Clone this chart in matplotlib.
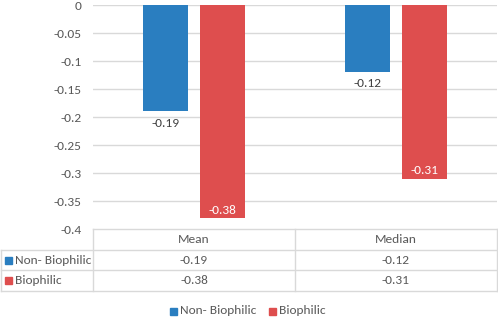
import matplotlib
matplotlib.use("Agg")
import matplotlib.pyplot as plt
from matplotlib.lines import Line2D
from matplotlib.patches import Rectangle

categories = ["Mean", "Median"]
series_names = ["Non- Biophilic", "Biophilic"]
non_biophilic = [-0.19, -0.12]
biophilic = [-0.38, -0.31]
yticks = [0, -0.05, -0.1, -0.15, -0.2, -0.25, -0.3, -0.35, -0.4]
ytick_labels = ["0", "-0.05", "-0.1", "-0.15", "-0.2", "-0.25", "-0.3", "-0.35", "-0.4"]

BLUE = "#2A7EC0"
RED = "#DE4E4E"
GRID = "#D9D9D9"
TXT = "#595959"
plt.rcParams["font.family"] = ["Carlito", "Lato", "DejaVu Sans"]

W, H = 498, 317
fig = plt.figure(figsize=(W / 100, H / 100), dpi=100)

# pick a font size so that the row label has about the reference width
r = fig.canvas.get_renderer()
probe = fig.text(0, 0, series_names[0], fontsize=10)
wpx = probe.get_window_extent(renderer=r).width
probe.remove()
FS = 10 * 77 / wpx

def fx(px):
    return px / W

def fy(py):
    return 1 - py / H

left, right, top, bottom = 93, 497, 5, 229
ax = fig.add_axes([fx(left), fy(bottom), fx(right) - fx(left), fy(top) - fy(bottom)])
ax.set_xlim(0, 2)
ax.set_ylim(-0.4, 0)
for s in ax.spines.values():
    s.set_visible(False)
ax.set_xticks([])
ax.set_yticks(yticks)
ax.set_yticklabels(ytick_labels, fontsize=FS, color=TXT)
ax.tick_params(axis="y", length=0, pad=8)
for t in yticks[:-1]:
    ax.axhline(t, color=GRID, lw=1, zorder=0)

xs = [0.5, 1.5]
off = 0.141
bw = 0.223
ax.bar([x - off for x in xs], non_biophilic, bw, color=BLUE, zorder=2)
ax.bar([x + off for x in xs], biophilic, bw, color=RED, zorder=2)
for x, v in zip(xs, non_biophilic):
    ax.text(x - off, v - 0.011, f"{v:.2f}", ha="center", va="top", fontsize=FS, color="#404040")
for x, v in zip(xs, biophilic):
    ax.text(x + off, v + 0.004, f"{v:.2f}", ha="center", va="bottom", fontsize=FS, color="white")

# data table drawn in figure coordinates
lc = GRID
rows_y = [229, 250, 270, 291]
mid = 295
def hline(y, x0, x1):
    fig.add_artist(Line2D([fx(x0), fx(x1)], [fy(y), fy(y)], color=lc, lw=1))
def vline(x, y0, y1):
    fig.add_artist(Line2D([fx(x), fx(x)], [fy(y0), fy(y1)], color=lc, lw=1))
hline(229, left, right)
hline(250, 0.5, right)
hline(270, 0.5, right)
hline(291, 0.5, right)
vline(0.5, 250, 291)
vline(left, 229, 291)
vline(mid, 229, 291)
vline(right, 229, 291)

for cx, c in zip([(left + mid) / 2, (mid + right) / 2], categories):
    fig.text(fx(cx), fy(239.5), c, ha="center", va="center", fontsize=FS, color=TXT)
for i, (name, vals, col) in enumerate(zip(series_names, [non_biophilic, biophilic], [BLUE, RED])):
    yc = (rows_y[i + 1] + rows_y[i + 2]) / 2
    fig.add_artist(Rectangle((fx(5), fy(yc + 3.5)), 7 / W, 7 / H, color=col, transform=fig.transFigure))
    fig.text(fx(15), fy(yc), name, ha="left", va="center", fontsize=FS, color=TXT)
    for cx, v in zip([(left + mid) / 2, (mid + right) / 2], vals):
        fig.text(fx(cx), fy(yc), f"{v:.2f}", ha="center", va="center", fontsize=FS, color=TXT)

# legend
for x0, name, col in [(170, series_names[0], BLUE), (269, series_names[1], RED)]:
    fig.add_artist(Rectangle((fx(x0), fy(311 + 3.5)), 7 / W, 7 / H, color=col, transform=fig.transFigure))
    fig.text(fx(x0 + 10), fy(311), name, ha="left", va="center", fontsize=FS, color=TXT)

fig.savefig("out.png", dpi=100, facecolor="white")
